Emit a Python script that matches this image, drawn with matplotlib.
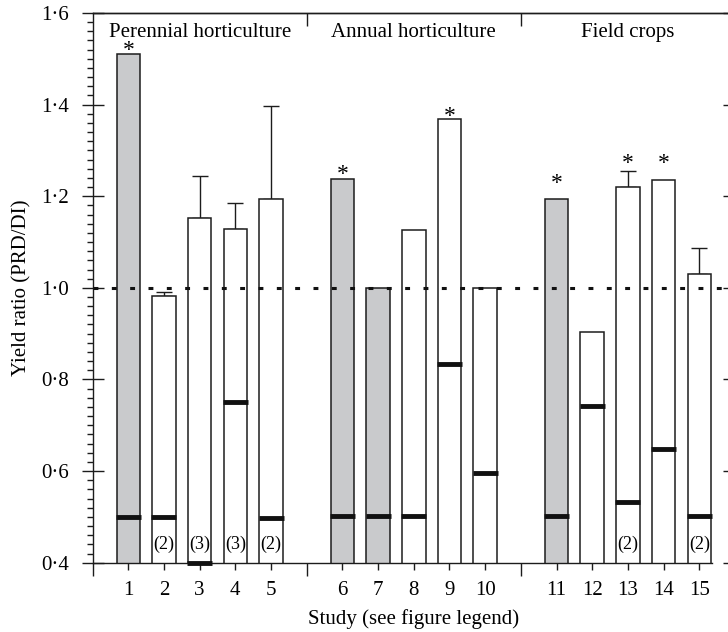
import matplotlib
matplotlib.use('Agg')
import matplotlib.pyplot as plt
from matplotlib.ticker import MultipleLocator, FuncFormatter, NullLocator

plt.rcParams['font.family'] = ['Liberation Serif', 'DejaVu Serif']

# ---------------- data ----------------
studies = [1, 2, 3, 4, 5, 6, 7, 8, 9, 10, 11, 12, 13, 14, 15]
group_names = ['Perennial horticulture', 'Annual horticulture', 'Field crops']
group_of_study = [0, 0, 0, 0, 0, 1, 1, 1, 1, 1, 2, 2, 2, 2, 2]
yield_ratio = [1.510, 0.982, 1.153, 1.129, 1.193, 1.238, 1.000, 1.126,
               1.368, 1.000, 1.193, 0.904, 1.221, 1.235, 1.030]
err_upper = [0, 0.010, 0.091, 0.056, 0.205, 0, 0, 0,
             0, 0, 0, 0, 0.033, 0, 0.058]
marker_level = [0.500, 0.499, 0.400, 0.751, 0.498, 0.501, 0.501, 0.501,
                0.834, 0.595, 0.501, 0.741, 0.533, 0.649, 0.501]
shaded = [True, False, False, False, False, True, True, False,
          False, False, True, False, False, False, False]
star_level = [1.526, None, None, None, None, 1.256, None, None,
              1.381, None, 1.236, None, 1.280, 1.280, None]
n_label = ['', '(2)', '(3)', '(3)', '(2)', '', '', '', '', '', '', '', '(2)', '', '(2)']

# ---------------- layout ----------------
pos = [s + g for s, g in zip(studies, group_of_study)]
n_groups = len(group_names)
group_pos = [[p for p, g in zip(pos, group_of_study) if g == k] for k in range(n_groups)]
group_centers = [sum(gp) / len(gp) for gp in group_pos]
boundaries = [min(gp) - 1 for gp in group_pos]

W, H = 728, 632
fig = plt.figure(figsize=(W / 100, H / 100), dpi=100)
left_px, right_px, top_px, bottom_px = 92.6, 735.0, 13.0, 562.7
ax = fig.add_axes([left_px / W, 1 - bottom_px / H, (right_px - left_px) / W, (bottom_px - top_px) / H])

edge = '#1c1c1c'
gray = '#c9cacc'
bar_w = 0.66

ax.bar(pos, yield_ratio, width=bar_w,
       color=[gray if s else 'white' for s in shaded],
       edgecolor=edge, linewidth=1.1, zorder=2)

for p, y, e in zip(pos, yield_ratio, err_upper):
    if e > 0:
        ax.errorbar([p], [y], yerr=[[0], [e]], fmt='none', ecolor=edge,
                    elinewidth=1.0, capsize=5.6, capthick=1.0, zorder=1)

ax.hlines(marker_level, [p - 0.35 for p in pos], [p + 0.35 for p in pos],
          colors='#111111', linewidth=3.5, zorder=4, clip_on=False)

ax.axhline(1.0, color='#111111', linewidth=2.2, linestyle=(0, (1.6, 4.4)),
           zorder=5)

for p, s in zip(pos, star_level):
    if s is not None:
        ax.annotate('*', (p, s), xytext=(0, -2.5), textcoords='offset points',
                    ha='center', va='center', fontsize=17, zorder=6)

for p, lab in zip(pos, n_label):
    if lab:
        ax.text(p, 0.44, lab, ha='center', va='center', fontsize=13, zorder=6)

for c, name in zip(group_centers, group_names):
    ax.text(c, 1.548, name, ha='center', va='baseline', fontsize=15)

# ---------------- axes ----------------
ax.set_xlim(0, 18)
ax.set_ylim(0.4, 1.6)
ax.set_xticks(pos)
ax.set_xticklabels([str(s) for s in studies])
ax.set_xticks(boundaries, minor=True)
ax.tick_params(axis='x', which='major', direction='out', length=5, width=1.0,
               pad=8, labelsize=15, color=edge)
ax.tick_params(axis='x', which='minor', direction='out', length=9, width=1.0, color=edge)

ax.yaxis.set_major_locator(MultipleLocator(0.2))
ax.yaxis.set_minor_locator(MultipleLocator(0.02))
ax.yaxis.set_major_formatter(FuncFormatter(lambda v, p: f'{v:.1f}'.replace('.', '\u00b7')))
ax.tick_params(axis='y', which='major', direction='inout', length=16, width=1.0,
               pad=9, labelsize=15, color=edge)
ax.tick_params(axis='y', which='minor', direction='out', length=4.3, width=1.0, color=edge)

for sp in ax.spines.values():
    sp.set_linewidth(1.0)
    sp.set_color(edge)
ax.spines['right'].set_visible(False)
ax.spines['bottom'].set_bounds(0, 17.35)

sec_y = ax.secondary_yaxis('right')
sec_y.yaxis.set_major_locator(MultipleLocator(0.2))
sec_y.yaxis.set_minor_locator(NullLocator())
sec_y.tick_params(direction='in', length=8.6, width=1.0, labelright=False, color=edge)
sec_y.spines['right'].set_color(edge)

sec_x = ax.secondary_xaxis('top')
sec_x.set_xticks(boundaries[1:])
sec_x.xaxis.set_minor_locator(NullLocator())
sec_x.tick_params(direction='in', length=9, width=1.0, labeltop=False, color=edge)
sec_x.spines['top'].set_color(edge)
sec_x.spines['top'].set_linewidth(1.0)

ax.set_ylabel('Yield ratio (PRD/DI)', fontsize=15, labelpad=7)
ax.set_xlabel('Study (see figure legend)', fontsize=15, labelpad=7)

fig.savefig('out.png', dpi=100)
